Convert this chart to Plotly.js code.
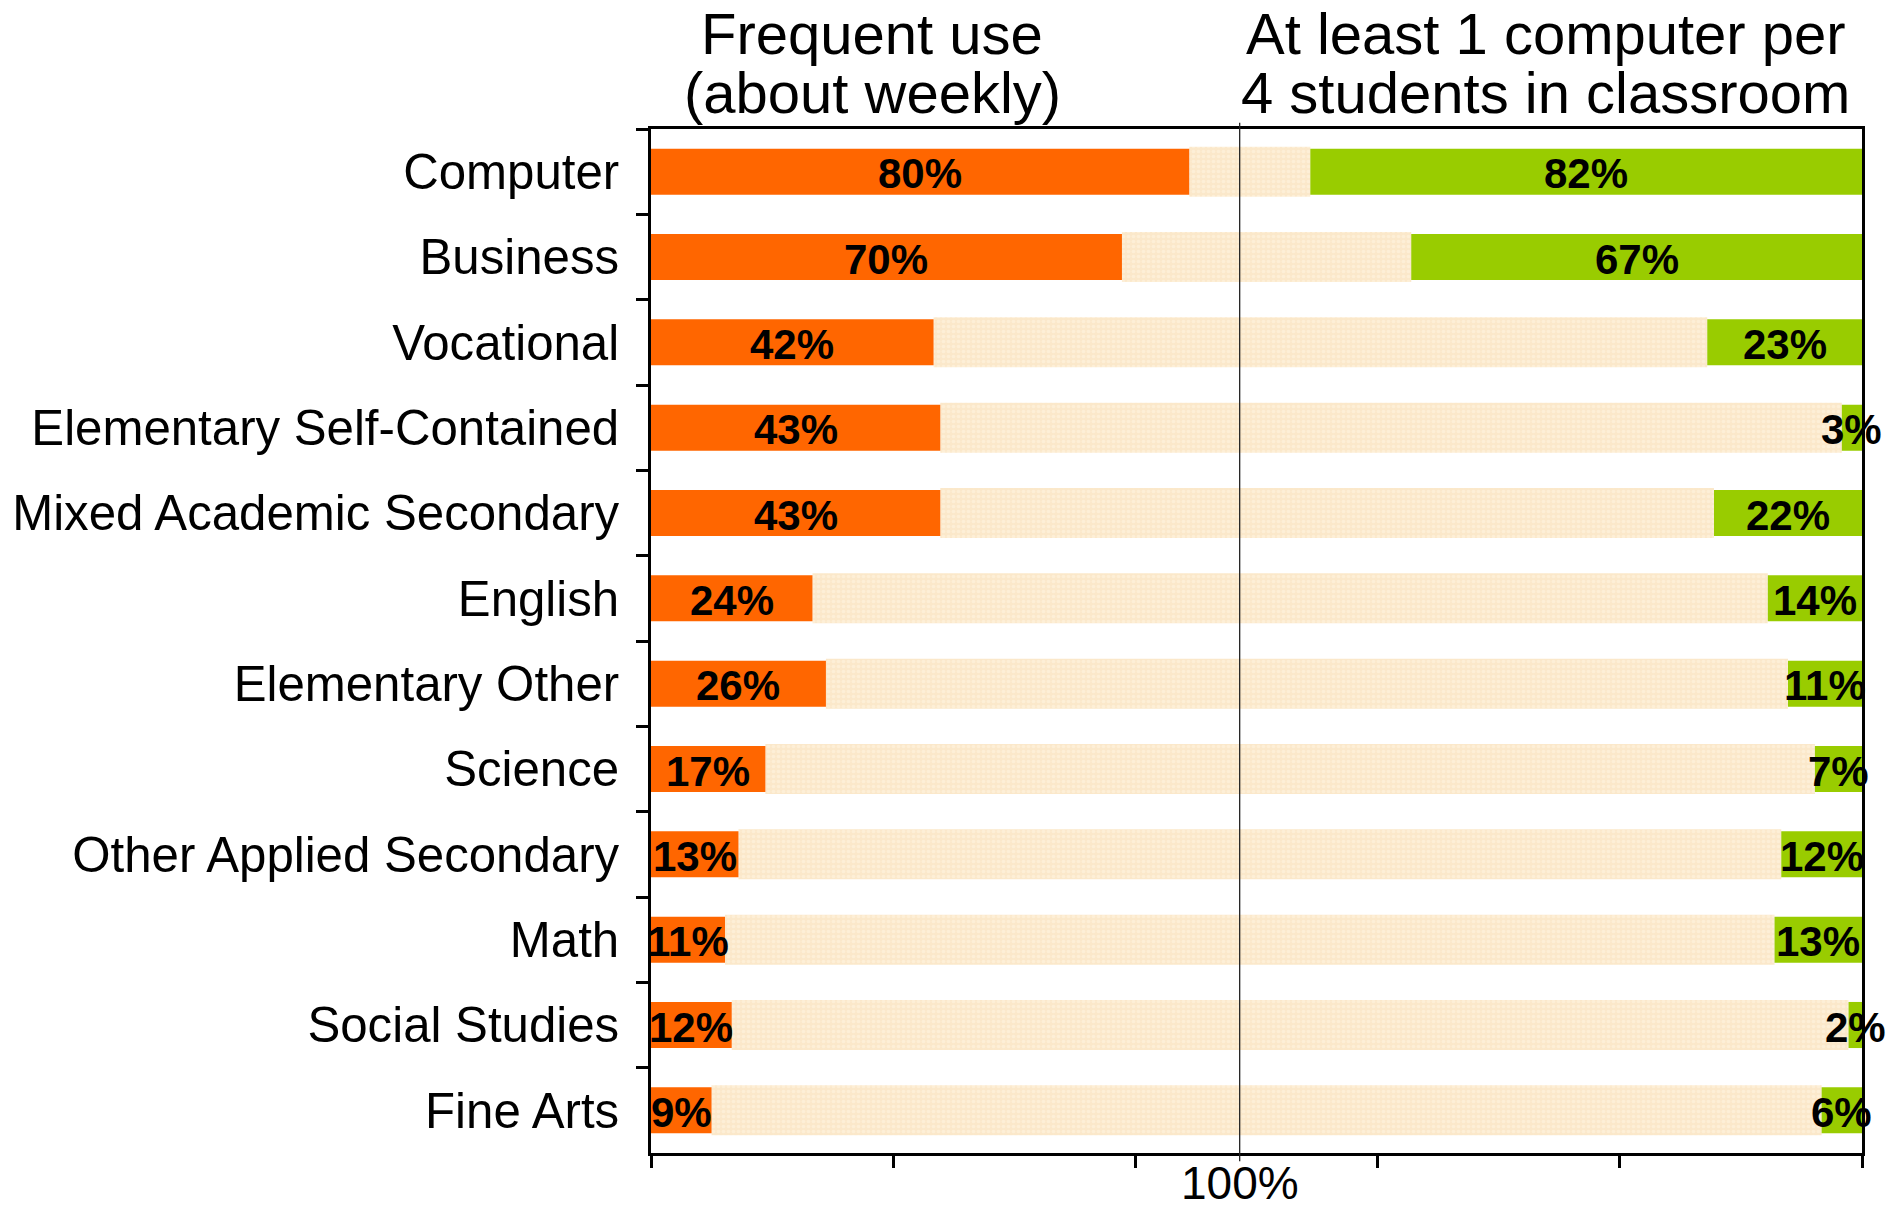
<!DOCTYPE html>
<html>
<head>
<meta charset="utf-8">
<script src="https://cdn.plot.ly/plotly-3.0.1.min.js"></script>
<style>
  html, body { margin: 0; padding: 0; background: #ffffff; }
  #chart { width: 1900px; height: 1208px; }
</style>
</head>
<body>
<div id="chart"></div>
<script>
// ---- Data ----
const categories = [
  "Computer",
  "Business",
  "Vocational",
  "Elementary Self-Contained",
  "Mixed Academic Secondary",
  "English",
  "Elementary Other",
  "Science",
  "Other Applied Secondary",
  "Math",
  "Social Studies",
  "Fine Arts"
];
const frequentUse = [80, 70, 42, 43, 43, 24, 26, 17, 13, 11, 12, 9];
const computerRatio = [82, 67, 23, 3, 22, 14, 11, 7, 12, 13, 2, 6];
const leftTitle = ["Frequent use", "(about weekly)"];
const rightTitle = ["At least 1 computer per", "4 students in classroom"];
const axisTotal = 180;
const axisTicks = [0, 36, 72, 108, 144, 180];
const refLine = 87.5;
const refLabel = "100%";

// ---- Derived ----
const fillerBase = frequentUse.slice();
const fillerLen = frequentUse.map((v, i) => axisTotal - v - computerRatio[i]);
const greenBase = computerRatio.map(v => axisTotal - v);
const pct = v => v + "%";

const FONT = "Liberation Sans, Arial, Helvetica, sans-serif";
const valueFont = { family: FONT, size: 42, color: "#000000", weight: "bold" };

const traces = [
  {
    type: "bar", orientation: "h",
    y: categories, x: fillerLen, base: fillerBase,
    width: 0.585,
    marker: {
      color: "#FBE8CA",
      line: { width: 0 },
      pattern: { shape: ".", fgcolor: "#FFF5E4", size: 5, solidity: 0.4, fillmode: "overlay" }
    },
    hoverinfo: "skip", showlegend: false
  },
  {
    type: "bar", orientation: "h",
    y: categories, x: frequentUse, base: frequentUse.map(() => 0),
    width: 0.54,
    marker: { color: "#FF6600", line: { width: 0 } },
    hoverinfo: "skip", showlegend: false
  },
  {
    type: "bar", orientation: "h",
    y: categories, x: computerRatio, base: greenBase,
    width: 0.54,
    marker: { color: "#99CC00", line: { width: 0 } },
    hoverinfo: "skip", showlegend: false
  }
];

const valueAnnotations = [];
categories.forEach((c, i) => {
  valueAnnotations.push({
    xref: "x", yref: "y", x: frequentUse[i] / 2, y: c,
    xanchor: "center", yanchor: "middle", yshift: -2,
    text: pct(frequentUse[i]), showarrow: false, font: valueFont
  });
  valueAnnotations.push({
    xref: "x", yref: "y", x: axisTotal - computerRatio[i] / 2, y: c,
    xanchor: "center", yanchor: "middle", yshift: -2,
    text: pct(computerRatio[i]), showarrow: false, font: valueFont
  });
});

const titleFont = { family: FONT, size: 58, color: "#000000" };

const layout = {
  width: 1900, height: 1208,
  margin: { l: 651, r: 38, t: 129, b: 55, pad: 0 },
  paper_bgcolor: "#ffffff", plot_bgcolor: "#ffffff",
  barmode: "overlay",
  font: { family: FONT, color: "#000000" },
  xaxis: {
    range: [0, axisTotal],
    tickvals: axisTicks,
    ticktext: axisTicks.map(() => ""),
    ticks: "outside", ticklen: 12, tickwidth: 3, tickcolor: "#000000",
    showline: true, linewidth: 3, linecolor: "#000000", mirror: true,
    showgrid: false, zeroline: false, fixedrange: true
  },
  yaxis: {
    type: "category",
    categoryorder: "array", categoryarray: categories,
    range: [categories.length - 0.5, -0.5],
    tickson: "boundaries",
    ticks: "outside", ticklen: 12, tickwidth: 3, tickcolor: "#000000",
    showline: true, linewidth: 3, linecolor: "#000000", mirror: true,
    showgrid: false, zeroline: false, fixedrange: true,
    tickfont: { family: FONT, size: 49.2, color: "#000000" },
    ticklabelstandoff: 19
  },
  shapes: [
    {
      type: "line", xref: "x", yref: "paper",
      x0: refLine, x1: refLine, y0: -0.008, y1: 1.006,
      line: { color: "#222222", width: 1.3 }
    }
  ],
  annotations: valueAnnotations.concat([
    { xref: "x", yref: "paper", x: refLine, y: 0, yanchor: "middle", xanchor: "center",
      yshift: -30, text: refLabel, showarrow: false,
      font: { family: FONT, size: 46, color: "#000000" } },
    { xref: "paper", yref: "paper", x: 0.1825, y: 1, yanchor: "middle", xanchor: "center",
      yshift: 96, text: leftTitle[0], showarrow: false, font: titleFont },
    { xref: "paper", yref: "paper", x: 0.1825, y: 1, yanchor: "middle", xanchor: "center",
      yshift: 37, text: leftTitle[1], showarrow: false, font: titleFont },
    { xref: "paper", yref: "paper", x: 0.739, y: 1, yanchor: "middle", xanchor: "center",
      yshift: 96, text: rightTitle[0], showarrow: false, font: titleFont },
    { xref: "paper", yref: "paper", x: 0.739, y: 1, yanchor: "middle", xanchor: "center",
      yshift: 37, text: rightTitle[1], showarrow: false, font: titleFont }
  ])
};

Plotly.newPlot("chart", traces, layout, { staticPlot: true, displayModeBar: false });
</script>
</body>
</html>
